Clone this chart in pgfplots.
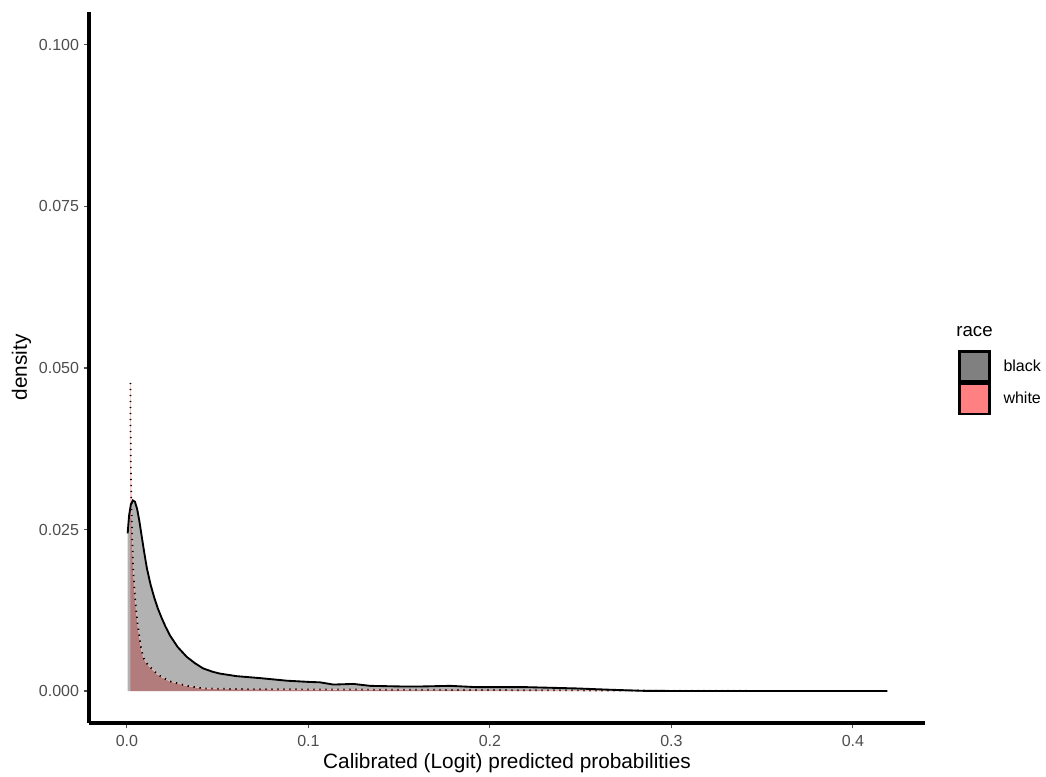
\documentclass[border=0pt]{standalone}
\usepackage{fontspec}
\setmainfont{Liberation Sans}
\usepackage{pgfplots}
\usepackage{pgfplotstable}
\pgfplotsset{compat=1.18}

\pgfplotstableread{
x y
0.0004 0.0244
0.0012 0.0272
0.0022 0.0289
0.0033 0.0295
0.0044 0.0293
0.0056 0.0282
0.0068 0.0264
0.0080 0.0242
0.0095 0.0215
0.0110 0.0190
0.0130 0.0165
0.0150 0.0145
0.0170 0.0128
0.0190 0.0114
0.0212 0.0100
0.0237 0.0086
0.0280 0.0068
0.0329 0.0053
0.0375 0.0043
0.0420 0.0035
0.0470 0.0030
0.0512 0.0027
0.0604 0.0023
0.0733 0.0020
0.0880 0.0016
0.1008 0.0014
0.1063 0.00135
0.1137 0.0010
0.1247 0.0011
0.1340 0.0008
0.1520 0.0007
0.1615 0.0007
0.1780 0.0008
0.1927 0.0006
0.2200 0.0006
0.2478 0.0004
0.2660 0.0002
0.2845 0.00003
0.3000 0.00001
0.3500 0.00001
0.4190 0.00000
}\blackdata

\pgfplotstableread{
x y
0.0019 0.0477
0.0021 0.0360
0.0024 0.0300
0.0029 0.0239
0.0035 0.0187
0.0044 0.0146
0.0058 0.0105
0.0071 0.0080
0.0080 0.0063
0.0094 0.0050
0.0108 0.0043
0.0136 0.0035
0.0164 0.0027
0.0190 0.0022
0.0237 0.0015
0.0264 0.0013
0.0330 0.0008
0.0420 0.0004
0.0600 0.0003
0.1000 0.00025
0.1500 0.0002
0.2000 0.00015
0.2500 0.0001
0.3000 0.00005
0.3500 0.00002
0.4190 0.0
}\whitedata

\definecolor{tickgray}{HTML}{4D4D4D}
\definecolor{keyblack}{HTML}{808080}
\definecolor{keywhite}{HTML}{FF8080}

\begin{document}
\begin{tikzpicture}
\path[use as bounding box] (-66.75pt,-39.75pt) rectangle (717.75pt,542.25pt);
\begin{axis}[
  scale only axis,
  width=627pt, height=533.25pt,
  xmin=-0.0209, xmax=0.4397,
  ymin=-0.00495, ymax=0.1051,
  axis x line*=bottom, axis y line*=left,
  axis line style={line width=2.4pt, -},
  every outer x axis line/.append style={line width=2.4pt},
  every outer y axis line/.append style={line width=2.4pt},
  xtick={0,0.1,0.2,0.3,0.4},
  ytick={0,0.025,0.05,0.075,0.1},
  tick align=outside,
  major tick length=4pt,
  tick style={line width=0.8pt, color=tickgray},
  /pgf/number format/assume math mode=true,
  xticklabel style={/pgf/number format/.cd, fixed, fixed zerofill, precision=1, /tikz/.cd, yshift=-2pt},
  yticklabel style={/pgf/number format/.cd, fixed, fixed zerofill, precision=3},
  ticklabel style={font=\fontsize{12}{14}\selectfont, color=tickgray},
  scaled ticks=false,
  xlabel={Calibrated (Logit) predicted probabilities},
  ylabel={density},
  label style={font=\fontsize{15.6}{18}\selectfont},
  xlabel style={yshift=2pt},
  ylabel style={yshift=-1pt},
  clip=false,
  legend style={at={(1.0395,0.497)}, anchor=west, draw=none, fill=none,
    font=\fontsize{12}{14}\selectfont, row sep=0pt, inner sep=0pt,
    /tikz/every odd column/.append style={column sep=7.5pt}},
  legend cell align=left,
  legend image code/.code={\draw[#1, line width=1.9pt] (0pt,-11.3pt) rectangle (22.5pt,11.3pt);},
]
\addplot[draw=none, fill=red, fill opacity=0.3, forget plot] table[x=x,y=y] {\whitedata} \closedcycle;
\addplot[draw=none, fill=black, fill opacity=0.3, forget plot] table[x=x,y=y] {\blackdata} \closedcycle;
\addplot[red!25, line width=0.4pt, forget plot] table[x=x,y=y] {\whitedata};
\addplot[black, line width=1.4pt, forget plot] table[x=x,y=y] {\blackdata};
\addplot[black, line width=1.3pt, dash pattern=on 1pt off 3.5pt, forget plot] table[x=x,y=y] {\whitedata};
\addlegendimage{legend image code/.code={\path[draw=none, fill=none] (0pt,-13pt) rectangle (0.1pt,4pt);}}
\addlegendentry{\hspace*{-40.5pt}\fontsize{14}{16}\selectfont race}
\addlegendimage{fill=keyblack, draw=black}
\addlegendentry{black}
\addlegendimage{fill=keywhite, draw=black}
\addlegendentry{white}
\end{axis}
\end{tikzpicture}
\end{document}
